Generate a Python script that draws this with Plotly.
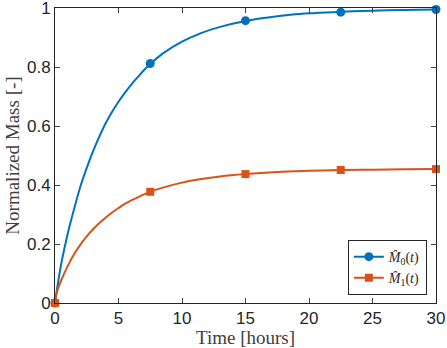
import plotly.graph_objects as go

# values
t_curve = [0, 0.1, 0.25, 0.5, 1, 1.5, 2, 2.5, 3, 3.5, 4, 4.5, 5, 5.5, 6, 6.5, 7, 7.5,
           8.5, 10, 11.5, 13, 15, 17.5, 20, 22.5, 25, 27.5, 30]
m0_curve = [0, 0.03, 0.072, 0.135, 0.235, 0.318, 0.395, 0.458, 0.515, 0.565, 0.61, 0.648,
            0.682, 0.712, 0.74, 0.765, 0.789, 0.81, 0.846, 0.886, 0.915, 0.936, 0.956,
            0.972, 0.982, 0.987, 0.991, 0.993, 0.995]
m1_curve = [0, 0.028, 0.05, 0.078, 0.125, 0.165, 0.198, 0.226, 0.25, 0.271, 0.29, 0.307,
            0.322, 0.336, 0.348, 0.358, 0.368, 0.377, 0.391, 0.408, 0.42, 0.429, 0.437,
            0.444, 0.448, 0.451, 0.452, 0.453, 0.454]

t_marks = [0, 7.5, 15, 22.5, 30]
m0_marks = [0, 0.812, 0.957, 0.986, 0.995]
m1_marks = [0, 0.377, 0.437, 0.451, 0.454]

blue = '#0072BD'
orange = '#D95319'

fig = go.Figure()
fig.add_trace(go.Scatter(x=t_curve, y=m0_curve, mode='lines', line=dict(color=blue, width=2, shape='spline', smoothing=1),
                         showlegend=False))
fig.add_trace(go.Scatter(x=t_curve, y=m1_curve, mode='lines', line=dict(color=orange, width=2, shape='spline', smoothing=1),
                         showlegend=False))
fig.add_trace(go.Scatter(x=t_marks, y=m0_marks, mode='markers', marker=dict(color=blue, size=9, symbol='circle'),
                         showlegend=False, cliponaxis=False))
fig.add_trace(go.Scatter(x=t_marks, y=m1_marks, mode='markers', marker=dict(color=orange, size=8, symbol='square'),
                         showlegend=False, cliponaxis=False))
# legend entries
fig.add_trace(go.Scatter(x=[None], y=[None], mode='lines+markers', name='<i>M̂</i><sub>0</sub>(<i>t</i>)',
                         line=dict(color=blue, width=2), marker=dict(color=blue, size=9, symbol='circle')))
fig.add_trace(go.Scatter(x=[None], y=[None], mode='lines+markers', name='<i>M̂</i><sub>1</sub>(<i>t</i>)',
                         line=dict(color=orange, width=2), marker=dict(color=orange, size=8, symbol='square')))

axis_font = dict(family='Liberation Sans, Arial', size=17, color='#262626')
title_font = dict(family='Liberation Serif, DejaVu Serif', size=19, color='#404040')

fig.update_layout(
    width=447, height=348,
    margin=dict(l=55, r=11, t=8, b=45, autoexpand=False),
    paper_bgcolor='white', plot_bgcolor='white',
    xaxis=dict(range=[0, 30], tickvals=[0, 5, 10, 15, 20, 25, 30], ticks='inside', ticklen=5,
               showline=True, linecolor='#262626', linewidth=1, mirror='ticks', showgrid=False,
               zeroline=False, tickfont=axis_font, ticklabeloverflow='allow', automargin=False,
               title=dict(text='Time [hours]', font=title_font, standoff=0)),
    yaxis=dict(range=[0, 1], tickvals=[0, 0.2, 0.4, 0.6, 0.8, 1], ticktext=['0', '0.2', '0.4', '0.6', '0.8', '1'],
               ticks='inside', ticklen=5, showline=True, linecolor='#262626', linewidth=1, mirror='ticks',
               showgrid=False, zeroline=False, tickfont=axis_font, ticklabeloverflow='allow', automargin=False,
               title=dict(text='Normalized Mass [-]', font=title_font, standoff=2)),
    legend=dict(x=0.976, y=0.027, xanchor='right', yanchor='bottom', bgcolor='white',
                bordercolor='#262626', borderwidth=1, font=dict(family='Liberation Serif', size=14, color='#262626'),
                tracegroupgap=0, itemwidth=30),
)

fig.write_html('out.html', config={'displayModeBar': False},
               post_script="document.body.style.margin='0px';")
